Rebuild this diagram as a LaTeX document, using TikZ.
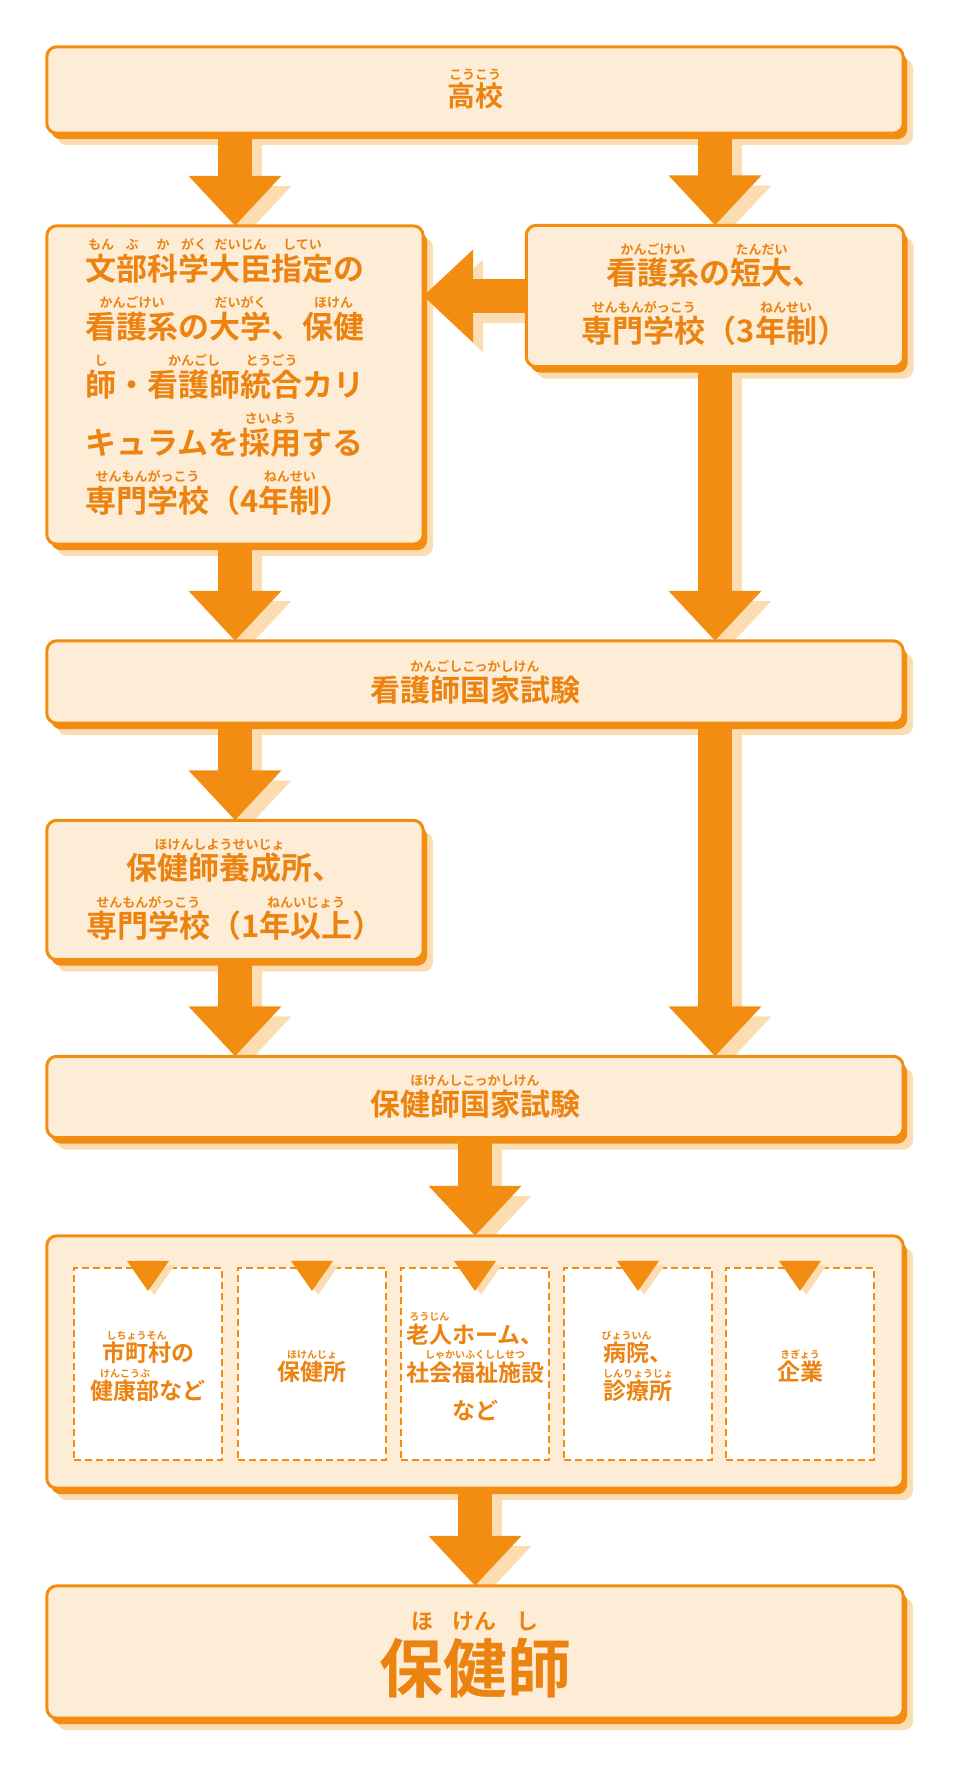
\documentclass[tikz,border=0pt]{standalone}
\usepackage{fontspec}
\setmainfont{Noto Sans CJK JP}[UprightFont=* Bold]
\usetikzlibrary{arrows.meta,shapes.geometric}
\definecolor{or}{HTML}{F28D12}
\definecolor{txt}{HTML}{EC8310}
\definecolor{bx}{HTML}{FDEDD6}
\definecolor{pale}{HTML}{FCDDB2}
\def\rbsz{13pt}
\newcommand\rb[2]{\leavevmode\setbox0\hbox{#1}%
  \rlap{\raisebox{0.98em}[0pt][0pt]{\makebox[\wd0]{\fontsize{\rbsz}{\rbsz}\selectfont #2}}}\box0}
\tikzset{
  box/.style={draw=or, line width=3pt, fill=bx, rounded corners=10pt, inner sep=0pt,
    preaction={fill=or, draw=none, transform canvas={shift={(4pt,-6pt)}}}},
  boxsh/.style={fill=pale, rounded corners=10pt, transform canvas={shift={(10pt,-12pt)}}},
  sub/.style={draw=or, line width=2.5pt, dash pattern=on 7pt off 4pt, fill=white,
    minimum width=148pt, minimum height=192pt, inner sep=0pt},
  lbl/.style={text=txt, align=center},
  arr/.style={draw=or, line width=34pt, -{Triangle[length=50pt,width=90pt]}},
  arrsh/.style={arr, draw=pale, transform canvas={shift={(10pt,-10pt)}}},
  tri/.style={fill=or, isosceles triangle, shape border rotate=-90, isosceles triangle apex angle=70,
    minimum width=42pt, minimum height=0pt, inner sep=0pt}
}
\begin{document}
\begin{tikzpicture}[x=1pt,y=-1pt]
\useasboundingbox (0,0) rectangle (960,1790);
% boxes (positions only, drawn later)
\path
(475,90) node [minimum width=856pt, minimum height=86pt] (top) {}
(235,385) node [minimum width=376pt, minimum height=318pt] (lb) {}
(715,296) node [minimum width=377pt, minimum height=141pt] (rb) {}
(475,682) node [minimum width=856pt, minimum height=82pt] (ex1) {}
(235,890) node [minimum width=376pt, minimum height=139pt] (ys) {}
(475,1097) node [minimum width=856pt, minimum height=81pt] (ex2) {}
(475,1362) node [minimum width=856pt, minimum height=252pt] (wk) {}
(475,1652) node [minimum width=856pt, minimum height=132pt] (fin) {};
\foreach \n in {top,lb,rb,ex1,ys,ex2,wk,fin}
  \fill[boxsh] (\n.south west) rectangle (\n.north east);
% arrows
\foreach \a/\b in {{top.south -| lb}/lb.north, {top.south -| rb}/rb.north, {lb.south}/{ex1.north -| lb},
  {rb.south}/{ex1.north -| rb}, {ex1.south -| ys}/ys.north, {ex1.south -| rb}/{ex2.north -| rb},
  {ys.south}/{ex2.north -| ys}, ex2.south/wk.north, wk.south/fin.north, rb.west/{lb.east |- rb.west}}{
  \draw[arrsh] (\a) -- (\b);
  \draw[arr] (\a) -- (\b);
}
\foreach \n in {top,lb,rb,ex1,ys,ex2,wk,fin}
  \draw[box] (\n.south west) rectangle (\n.north east);
% texts
\node[lbl, font=\fontsize{28}{28}\selectfont] at (475,96) {\rb{高校}{こうこう}};
\node[text=txt, align=left, anchor=north west, font=\fontsize{31}{58}\selectfont] at (82,250)
  {\rb{文}{もん}\rb{部}{ぶ}\rb{科}{か}\rb{学}{がく}\rb{大臣}{だいじん}\rb{指定}{してい}の\\
   \rb{看護系}{かんごけい}の\rb{大学}{だいがく}、\rb{保健}{ほけん}\\
   \rb{師}{し}・\rb{看護師}{かんごし}\rb{統合}{とうごう}カリ\\
   キュラムを\rb{採用}{さいよう}する\\
   \rb{専門学校}{せんもんがっこう}（4\rb{年制}{ねんせい}）};
\node[lbl, font=\fontsize{31}{58}\selectfont] at (715,302)
  {\rb{看護系}{かんごけい}の\rb{短大}{たんだい}、\\ \rb{専門学校}{せんもんがっこう}（3\rb{年制}{ねんせい}）};
\node[lbl, font=\fontsize{30}{30}\selectfont] at (475,690) {\rb{看護師国家試験}{かんごしこっかしけん}};
\node[lbl, font=\fontsize{31}{58}\selectfont] at (235,897)
  {\rb{保健師養成所}{ほけんしようせいじょ}、\\ \rb{専門学校}{せんもんがっこう}（1\rb{年以上}{ねんいじょう}）};
\node[lbl, font=\fontsize{30}{30}\selectfont] at (475,1104) {\rb{保健師国家試験}{ほけんしこっかしけん}};
% workplaces
\def\rbsz{10pt}
\foreach \x/\t [count=\i] in {148/{\rb{市町村}{しちょうそん}の\\ \rb{健康部}{けんこうぶ}など},
  312/{\rb{保健所}{ほけんじょ}},
  475/{\rb{老人}{ろうじん}ホーム、\\ \rb{社会福祉施設}{しゃかいふくししせつ}\\ など},
  638/{\rb{病院}{びょういん}、\\ \rb{診療所}{しんりょうじょ}},
  800/{\rb{企業}{きぎょう}}}{
  \node[sub] (w\i) at (\x,1364) {};
  \node[lbl, font=\fontsize{23}{38}\selectfont] at (\x,1372) {\t};
  \node[tri, fill=pale, anchor=north] at ([xshift=6pt,yshift=2pt]w\i.north) {};
  \node[tri, anchor=north] (t\i) at ([yshift=6pt]w\i.north) {};
}
\def\rbsz{22pt}
\node[lbl, font=\fontsize{64}{64}\selectfont] at (475,1668) {\rb{保健師}{ほ\hspace{0.9em}けん\hspace{0.9em}し}};
\end{tikzpicture}
\end{document}
